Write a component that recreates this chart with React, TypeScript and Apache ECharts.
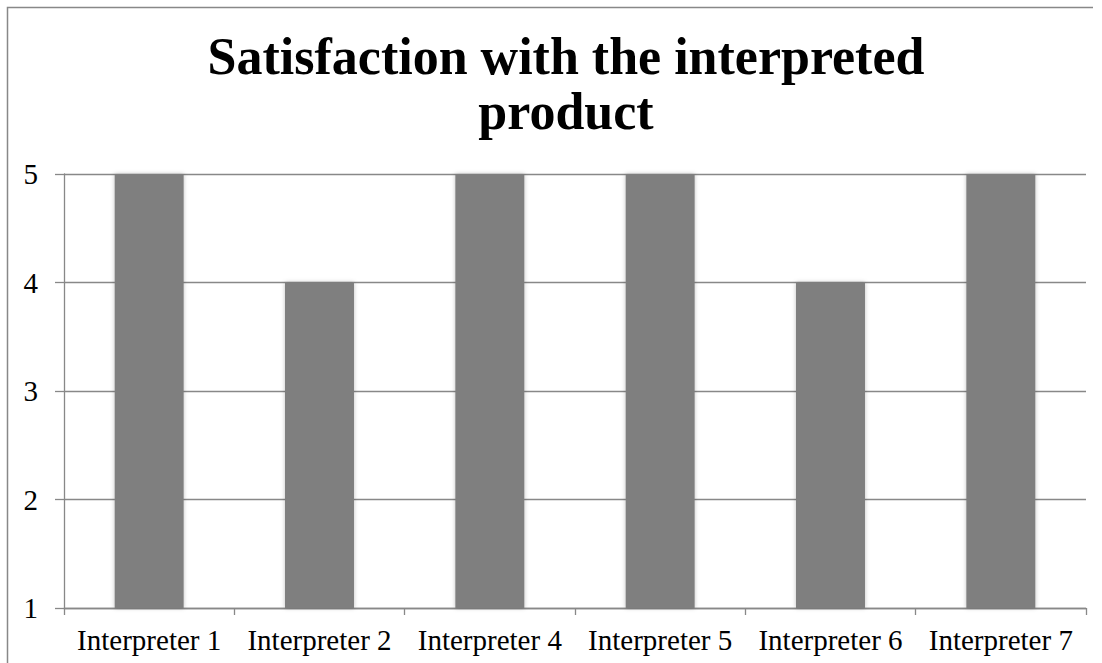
import React, { useEffect, useRef } from "react";
import * as echarts from "echarts";

const categories = ["Interpreter 1", "Interpreter 2", "Interpreter 4", "Interpreter 5", "Interpreter 6", "Interpreter 7"];
const satisfaction = [5, 4, 5, 5, 4, 5];
const titleText = "Satisfaction with the interpreted\nproduct";

const FONT = "'Liberation Serif', 'Times New Roman', serif";
const LINE = "#888888";

export default function App() {
  const ref = useRef<HTMLDivElement>(null);
  useEffect(() => {
    document.body.style.margin = "0";
    const chart = echarts.init(ref.current!, null, { renderer: "svg" });
    chart.setOption({
      animation: false,
      backgroundColor: "#ffffff",
      title: {
        text: titleText,
        left: 561,
        top: 24,
        textAlign: "center",
        textStyle: {
          fontFamily: FONT,
          fontWeight: "bold",
          fontSize: 52,
          lineHeight: 55,
          color: "#000000",
        },
      },
      graphic: [
        {
          type: "polyline",
          shape: { points: [[7.5, 663], [7.5, 7.5], [1093, 7.5]] },
          style: { fill: "none", stroke: LINE, lineWidth: 1.5 },
          silent: true,
        },
      ],
      grid: { left: 64, right: 16, top: 174, bottom: 55 },
      xAxis: {
        type: "category",
        data: categories,
        axisLine: { show: true, lineStyle: { color: LINE, width: 1.3 } },
        axisTick: { show: true, length: 7, lineStyle: { color: LINE, width: 1.3 } },
        axisLabel: { fontFamily: FONT, fontSize: 29, color: "#000000", margin: 17, interval: 0 },
      },
      yAxis: {
        type: "value",
        min: 1,
        max: 5,
        interval: 1,
        axisLine: { show: true, lineStyle: { color: LINE, width: 1.3 } },
        axisTick: { show: true, length: 9, lineStyle: { color: LINE, width: 1.3 } },
        splitLine: { show: true, lineStyle: { color: LINE, width: 1.3 } },
        axisLabel: { fontFamily: FONT, fontSize: 29, color: "#000000", margin: 26 },
      },
      series: [
        {
          type: "bar",
          data: satisfaction,
          barWidth: "40.5%",
          itemStyle: {
            color: "#7f7f7f",
            shadowColor: "rgba(0,0,0,0.25)",
            shadowBlur: 4,
          },
        },
      ],
    });
    return () => chart.dispose();
  }, []);
  return <div ref={ref} style={{ position: "absolute", left: 0, top: 0, width: 1102, height: 663 }} />;
}
